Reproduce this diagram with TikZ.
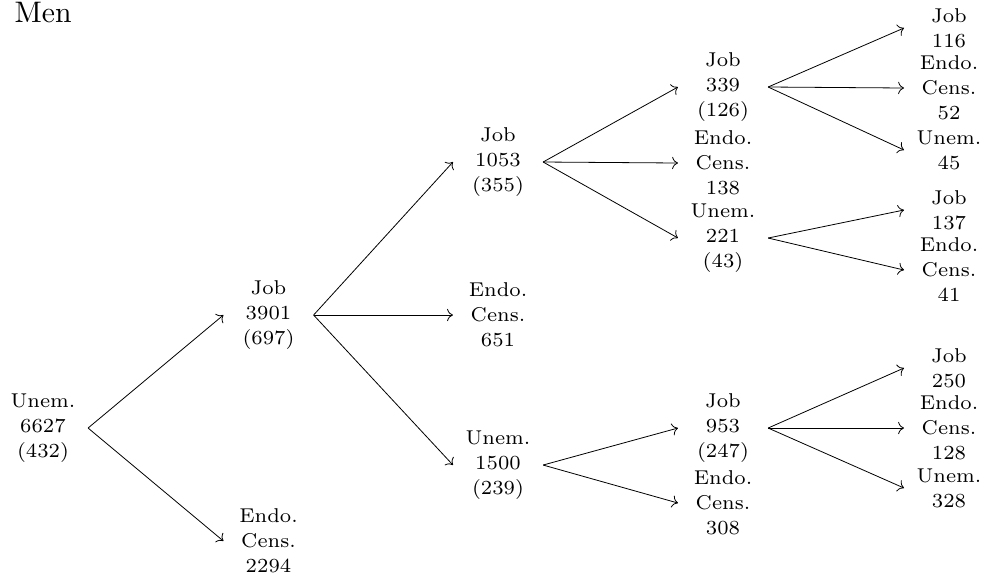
\documentclass[tikz,border=0pt]{standalone}
\usetikzlibrary{arrows.meta}
\begin{document}
\begin{tikzpicture}[x=0.35pt,y=-0.35pt,scale=2.142857,
  tn/.style={transform shape,align=center,minimum width=31.15pt,inner sep=0pt,font=\fontsize{7}{8.75}\selectfont},
  arr/.style={-{To[scale=1.5]},line width=0.6pt}]
\useasboundingbox (0,0) rectangle (985,580);
\node[transform shape,scale=1.04,anchor=base west,inner sep=0pt,font=\fontsize{10}{12}\selectfont] (title) at (14,23) {Men};
\node[tn] (r) at (43,428) {Unem.\\6627\\(432)};
\node[tn] (a) at (268.5,315) {Job\\3901\\(697)};
\node[tn] (b) at (268.5,541) {Endo.\\Cens.\\2294};
\node[tn] (a1) at (498,162) {Job\\1053\\(355)};
\node[tn] (a2) at (498,315) {Endo.\\Cens.\\651};
\node[tn] (a3) at (498,465) {Unem.\\1500\\(239)};
\node[tn] (a11) at (723,87) {Job\\339\\(126)};
\node[tn] (a12) at (723,163) {Endo.\\Cens.\\138};
\node[tn] (a13) at (723,238) {Unem.\\221\\(43)};
\node[tn] (a31) at (723,428) {Job\\953\\(247)};
\node[tn] (a32) at (723,503) {Endo.\\Cens.\\308};
\node[tn] (a111) at (949,28) {Job\\116};
\node[tn] (a112) at (949,88) {Endo.\\Cens.\\52};
\node[tn] (a113) at (949,150) {Unem.\\45};
\node[tn] (a131) at (949,210) {Job\\137};
\node[tn] (a132) at (949,270) {Endo.\\Cens.\\41};
\node[tn] (a311) at (949,368) {Job\\250};
\node[tn] (a312) at (949,428) {Endo.\\Cens.\\128};
\node[tn] (a313) at (949,488) {Unem.\\328};
\foreach \p/\c in {r/a,r/b,a/a1,a/a2,a/a3,a1/a11,a1/a12,a1/a13,a3/a31,a3/a32,a11/a111,a11/a112,a11/a113,a13/a131,a13/a132,a31/a311,a31/a312,a31/a313}
  \draw[arr] (\p.east) -- (\c.west);
\end{tikzpicture}
\end{document}
